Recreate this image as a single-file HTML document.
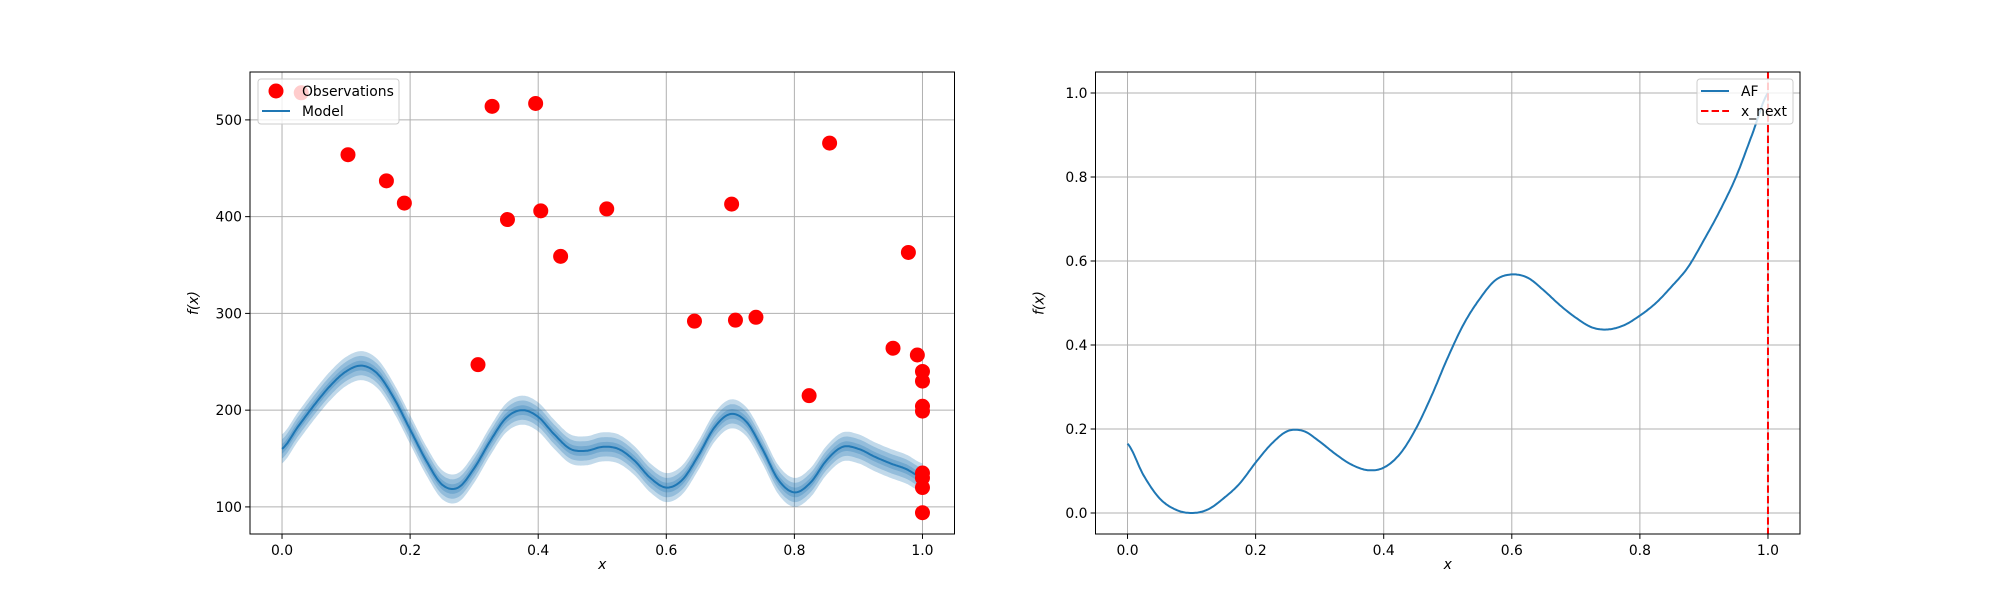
<!DOCTYPE html>
<html><head><meta charset="utf-8"><style>
html,body{margin:0;padding:0;background:#fff;}
svg{display:block;font-family:"DejaVu Sans","Liberation Sans",sans-serif;}
</style></head><body>
<svg id="fig" width="2000" height="600" viewBox="0 0 2000 600"></svg>
<script>
const obsX=[0.03,0.103,0.163,0.191,0.306,0.328,0.352,0.396,0.404,0.435,0.507,0.644,0.702,0.708,0.740,0.823,0.855,0.954,0.978,0.992,1.0,1.0,1.0,1.0,1.0,1.0,1.0,1.0];
const obsY=[528,464,437,414,247,514,397,517,406,359,408,292,413,293,296,215,476,264,363,257,240,230,204,199,135,130,120,94];
const modelX=[0,.025,.05,.075,.1,.125,.15,.175,.2,.225,.25,.275,.3,.325,.35,.375,.4,.425,.45,.475,.5,.525,.55,.575,.6,.625,.65,.675,.7,.725,.75,.775,.8,.825,.85,.875,.9,.925,.95,.975,1.0];
const modelY=[160,183,205,225,240,246,237,212,180,148,123,120,140,168,192,200,193,175,160,158,162,160,148,130,120,128,153,182,196,188,160,128,115,125,148,162,160,152,145,139,130];
const bandWidths=[5,10,15];
const afX=modelX;
const afY=[0.165,0.09,0.035,0.008,0.0,0.008,0.035,0.07,0.12,0.165,0.195,0.195,0.17,0.14,0.115,0.102,0.108,0.14,0.2,0.28,0.37,0.45,0.51,0.555,0.568,0.56,0.53,0.495,0.465,0.442,0.437,0.447,0.47,0.5,0.54,0.585,0.65,0.72,0.8,0.9,1.0];
const xNext=1.0;
const xTicks=[0,0.2,0.4,0.6,0.8,1.0];
const xTickLabels=["0.0","0.2","0.4","0.6","0.8","1.0"];
const yTicksL=[100,200,300,400,500];
const yTicksR=[0,0.2,0.4,0.6,0.8,1.0];
const yTickLabelsR=["0.0","0.2","0.4","0.6","0.8","1.0"];

const NS="http://www.w3.org/2000/svg";
const svg=document.getElementById('fig');
function mk(tag,attrs,parent){const e=document.createElementNS(NS,tag);for(const k in attrs)e.setAttribute(k,attrs[k]);(parent||svg).appendChild(e);return e;}
function interp(xs,ys,n){const px=[],py=[];for(let i=0;i<xs.length-1;i++){const p0=ys[Math.max(0,i-1)],p1=ys[i],p2=ys[i+1],p3=ys[Math.min(ys.length-1,i+2)];for(let k=0;k<n;k++){const t=k/n;const y=0.5*((2*p1)+(-p0+p2)*t+(2*p0-5*p1+4*p2-p3)*t*t+(-p0+3*p1-3*p2+p3)*t*t*t);px.push(xs[i]+(xs[i+1]-xs[i])*t);py.push(y);}}px.push(xs[xs.length-1]);py.push(ys[ys.length-1]);return [px,py];}

function axes(x0,x1,y0,y1,ylo,yhi,name){
  const sx=v=>x0+(v+0.05)/1.1*(x1-x0);
  const sy=v=>y1-(v-ylo)/(yhi-ylo)*(y1-y0);
  const g=mk('g',{});
  
  
  return {sx,sy,g,x0,x1,y0,y1};
}
function frame(a,yt,ylab){
  const g=a.g;
  xTicks.forEach((t,i)=>{const x=a.sx(t);
    const l=mk('line',{x1:x,x2:x,y1:a.y0,y2:a.y1,stroke:'#b0b0b0','stroke-width':1},g);
    
    mk('line',{x1:x,x2:x,y1:a.y1,y2:a.y1+4.9,stroke:'#000','stroke-width':1},g);
    const tx=mk('text',{x:x,y:a.y1+21,'font-size':13.9,'text-anchor':'middle'},g);tx.textContent=xTickLabels[i];
    
  });
  yt.forEach((t,i)=>{const y=a.sy(t);
    const l=mk('line',{x1:a.x0,x2:a.x1,y1:y,y2:y,stroke:'#b0b0b0','stroke-width':1},g);
    
    mk('line',{x1:a.x0-4.9,x2:a.x0,y1:y,y2:y,stroke:'#000','stroke-width':1},g);
    const tx=mk('text',{x:a.x0-8,y:y+5,'font-size':13.9,'text-anchor':'end'},g);tx.textContent=ylab[i];
    
  });
  const xl=mk('text',{x:(a.x0+a.x1)/2,y:569,'font-size':13.9,'text-anchor':'middle','font-style':'italic'},g);xl.textContent='x';
  
  const yx=a.x0-52,yy=(a.y0+a.y1)/2;
  const yl=mk('text',{x:yx,y:yy,'font-size':13.9,'text-anchor':'middle','font-style':'italic',transform:`rotate(-90 ${yx} ${yy})`},g);yl.textContent='f(x)';
  
}
function border(a){const r=mk('rect',{x:a.x0,y:a.y0,width:a.x1-a.x0,height:a.y1-a.y0,fill:'none',stroke:'#000','stroke-width':1},a.g);
  }

// Left
const L=axes(250,954.5,72,534,72,549.5,'model-plot');
frame(L,yTicksL,yTicksL.map(String));
const clipL=mk('clipPath',{id:'cl'});mk('rect',{x:250,y:72,width:704.5,height:462},clipL);
const lg=mk('g',{'clip-path':'url(#cl)'},L.g);
const [mx,my]=interp(modelX,modelY,12);
bandWidths.slice().reverse().forEach(w=>{
  let d='';mx.forEach((x,i)=>{d+=(i?'L':'M')+L.sx(x).toFixed(1)+','+L.sy(my[i]+w).toFixed(1);});
  for(let i=mx.length-1;i>=0;i--)d+='L'+L.sx(mx[i]).toFixed(1)+','+L.sy(my[i]-w).toFixed(1);
  const p=mk('path',{d:d+'Z',fill:'#1f77b4','fill-opacity':0.28,stroke:'none'},lg);
  
});
{let d='';mx.forEach((x,i)=>{d+=(i?'L':'M')+L.sx(x).toFixed(1)+','+L.sy(my[i]).toFixed(1);});
const p=mk('path',{d:d,fill:'none',stroke:'#1f77b4','stroke-width':2},lg);
}
obsX.forEach((x,i)=>{const c=mk('circle',{cx:L.sx(x),cy:L.sy(obsY[i]),r:7.5,fill:'#ff0000'},lg);
  });
border(L);
// left legend
{const g=mk('g',{},L.g);
mk('rect',{x:258,y:79,width:141,height:45,rx:3,fill:'#fff','fill-opacity':0.8,stroke:'#ccc'},g);
mk('circle',{cx:276,cy:91,r:7.5,fill:'#ff0000'},g);
const t1=mk('text',{x:302,y:96,'font-size':13.9},g);t1.textContent='Observations';

mk('line',{x1:262,x2:290,y1:111,y2:111,stroke:'#1f77b4','stroke-width':2},g);
const t2=mk('text',{x:302,y:116,'font-size':13.9},g);t2.textContent='Model';
}

// Right
const R=axes(1095.5,1800,72,534,-0.05,1.05,'acquisition-plot');
frame(R,yTicksR,yTickLabelsR);
const [ax,ay]=interp(afX,afY,12);
{let d='';ax.forEach((x,i)=>{d+=(i?'L':'M')+R.sx(x).toFixed(1)+','+R.sy(ay[i]).toFixed(1);});
const p=mk('path',{d:d,fill:'none',stroke:'#1f77b4','stroke-width':2},R.g);
}
{const x=R.sx(xNext);const l=mk('line',{x1:x,x2:x,y1:72,y2:534,stroke:'#ff0000','stroke-width':2,'stroke-dasharray':'7.4,3.2'},R.g);
}
border(R);
{const g=mk('g',{},R.g);
mk('rect',{x:1697,y:79,width:96,height:45,rx:3,fill:'#fff','fill-opacity':0.8,stroke:'#ccc'},g);
mk('line',{x1:1701,x2:1729,y1:91,y2:91,stroke:'#1f77b4','stroke-width':2},g);
const t1=mk('text',{x:1741,y:96,'font-size':13.9},g);t1.textContent='AF';

mk('line',{x1:1701,x2:1729,y1:111,y2:111,stroke:'#ff0000','stroke-width':2,'stroke-dasharray':'7.4,3.2'},g);
const t2=mk('text',{x:1741,y:116,'font-size':13.9},g);t2.textContent='x_next';
}
</script>
</body></html>
